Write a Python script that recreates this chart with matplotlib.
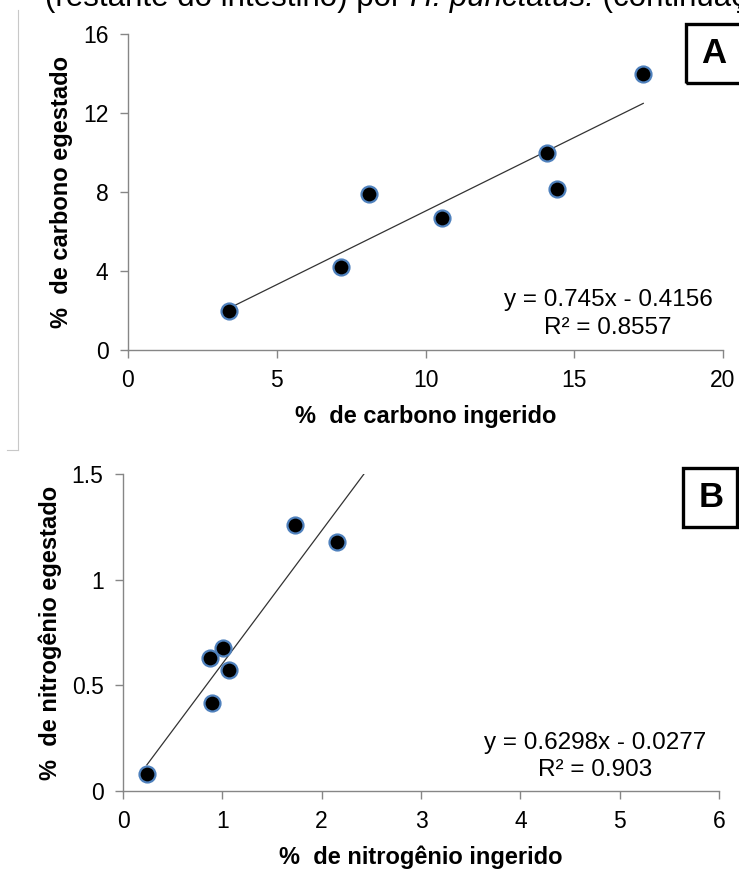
import matplotlib
matplotlib.use("Agg")
import matplotlib.pyplot as plt
from matplotlib.patches import Rectangle
from matplotlib.lines import Line2D
import numpy as np

plt.rcParams['font.family'] = ['Liberation Sans', 'DejaVu Sans']

# Painel A - carbono
carbono_ingerido = [3.40, 7.16, 8.10, 10.56, 14.09, 14.43, 17.32]
carbono_egestado = [1.97, 4.20, 7.90, 6.70, 10.00, 8.15, 14.00]
a_incl, a_inter = 0.745, -0.4156
a_eq = "y = 0.745x - 0.4156"
a_r2 = "R² = 0.8557"

# Painel B - nitrogenio
nitro_ingerido = [0.24, 0.88, 1.01, 1.07, 0.90, 1.73, 2.15]
nitro_egestado = [0.08, 0.63, 0.677, 0.573, 0.416, 1.26, 1.18]
b_incl, b_inter = 0.6298, -0.0277
b_fim = 2.6
b_eq = "y = 0.6298x - 0.0277"
b_r2 = "R² = 0.903"

W, H = 739, 885
fig = plt.figure(figsize=(W / 100, H / 100), dpi=100)

cinza = '#868686'


def painel(rect, x, y, incl, inter, xfim, xlim, ylim, xt, yt, xlab, ylab, eq, r2, eqpos):
    ax = fig.add_axes(rect)
    ax.set_xlim(xlim)
    ax.set_ylim(ylim)
    ax.set_xticks(xt)
    ax.set_yticks(yt)
    ax.set_xticklabels([f"{v:g}" for v in xt])
    ax.set_yticklabels([f"{v:g}" for v in yt])
    for s in ['top', 'right']:
        ax.spines[s].set_visible(False)
    for s in ['left', 'bottom']:
        ax.spines[s].set_color(cinza)
        ax.spines[s].set_linewidth(1.0)
    ax.tick_params(direction='out', length=6, width=1.0, color=cinza,
                   labelsize=16.5, labelcolor='black')
    ax.tick_params(axis='x', pad=8)
    ax.tick_params(axis='y', pad=8)
    ax.set_xlabel(xlab, fontsize=17, fontweight='bold', labelpad=9)
    ax.set_ylabel(ylab, fontsize=17, fontweight='bold', labelpad=7)

    xl = np.array([min(x), xfim])
    ax.plot(xl, incl * xl + inter, color='#333333', lw=0.9, zorder=2)
    ax.plot(x, y, 'o', ms=11.5, mfc='black', mec='#4F81BD', mew=1.6, zorder=3,
            clip_on=False)
    ax.text(eqpos[0], eqpos[1], eq, transform=ax.transAxes, ha='center',
            va='center', fontsize=17.5)
    ax.text(eqpos[0], eqpos[2], r2, transform=ax.transAxes, ha='center',
            va='center', fontsize=17.5)
    return ax


axA = painel([128 / W, 1 - 350 / H, 595 / W, 316 / H],
             carbono_ingerido, carbono_egestado, a_incl, a_inter, max(carbono_ingerido),
             (0, 20), (0, 16), [0, 5, 10, 15, 20], [0, 4, 8, 12, 16],
             "%  de carbono ingerido", "%  de carbono egestado",
             a_eq, a_r2, (0.807, 0.158, 0.070))

axB = painel([123 / W, 1 - 791 / H, 596 / W, 317 / H],
             nitro_ingerido, nitro_egestado, b_incl, b_inter, b_fim,
             (0, 6), (0, 1.5), [0, 1, 2, 3, 4, 5, 6], [0, 0.5, 1, 1.5],
             "%  de nitrogênio ingerido", "%  de nitrogênio egestado",
             b_eq, b_r2, (0.792, 0.151, 0.066))


# caixas com letras
def caixa(x0, y0, x1, y1, letra):
    fig.add_artist(Rectangle((x0 / W, 1 - y1 / H), (x1 - x0) / W, (y1 - y0) / H,
                             fill=False, edgecolor='black', lw=2.4,
                             transform=fig.transFigure))
    fig.text((x0 + 28) / W, 1 - (y0 + y1) / 2 / H, letra, ha='center', va='center',
             fontsize=25, fontweight='bold')


caixa(686, 24, 760, 83, "A")
caixa(683, 468, 737, 527, "B")

# moldura cinza a esquerda
fig.add_artist(Line2D([18 / W, 18 / W], [1 - 10 / H, 1 - 450 / H], color='#c8c8c8',
                      lw=0.8, transform=fig.transFigure))
fig.add_artist(Line2D([7 / W, 18 / W], [1 - 450 / H, 1 - 450 / H], color='#c8c8c8',
                      lw=0.8, transform=fig.transFigure))

# titulo cortado no topo
fig.canvas.draw()
r = fig.canvas.get_renderer()
partes = [("(restante do intestino) por ", 'normal'),
          ("H. punctatus.", 'italic'),
          (" (continuação)", 'normal')]
xpos = 45
for txt, est in partes:
    t = fig.text(xpos / W, 1 - 6 / H, txt, fontsize=22.5, style=est,
                 ha='left', va='baseline')
    bb = t.get_window_extent(renderer=r)
    xpos += bb.width

fig.savefig("out.png", dpi=100)
